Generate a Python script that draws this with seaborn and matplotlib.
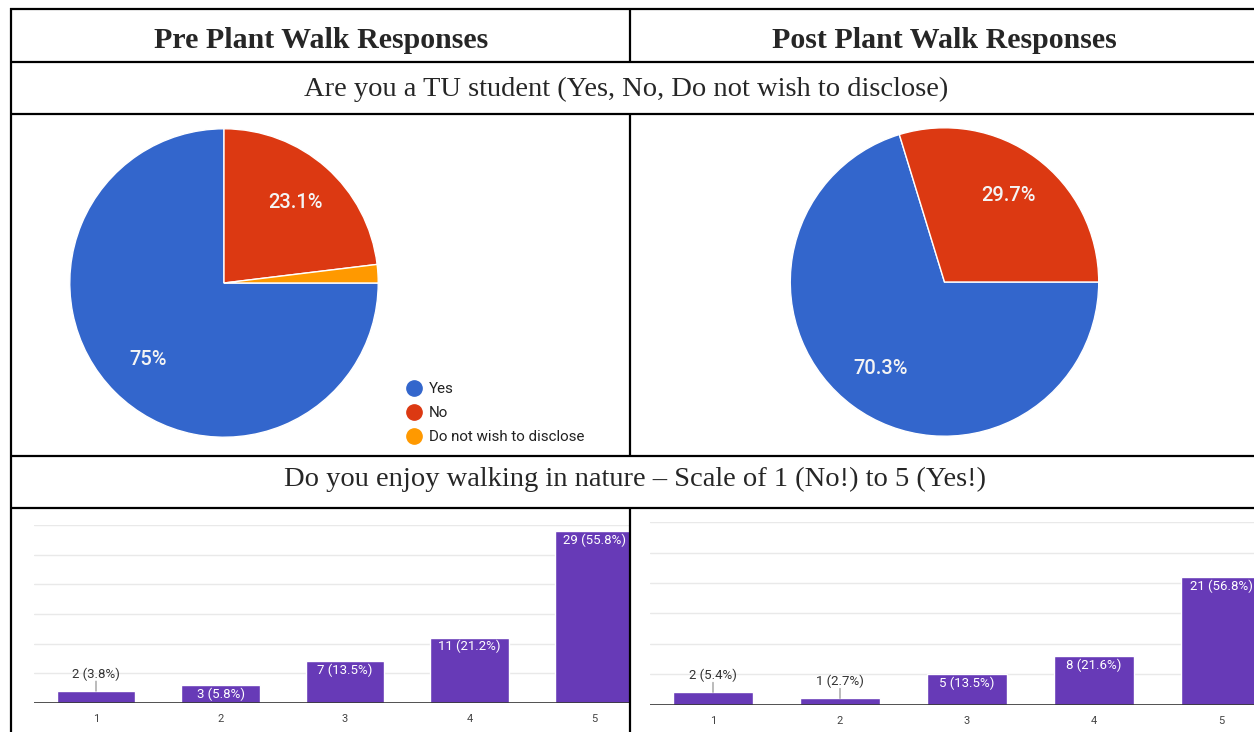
import numpy as np
import pandas as pd
import matplotlib
matplotlib.use("Agg")
import matplotlib.pyplot as plt
import seaborn as sns
from matplotlib.lines import Line2D

# ---------------- data ----------------
header_titles = ["Pre Plant Walk Responses", "Post Plant Walk Responses"]
question_1 = "Are you a TU student (Yes, No, Do not wish to disclose)"
question_2 = "Do you enjoy walking in nature \u2013 Scale of 1 (No!) to 5 (Yes!)"

student_labels = ["Yes", "No", "Do not wish to disclose"]
student_colors = ["#3366CC", "#DC3912", "#FF9900"]
pre_student_counts = [39, 12, 1]
post_student_counts = [26, 11, 0]

scale_levels = ["1", "2", "3", "4", "5"]
pre_scale_counts = [2, 3, 7, 11, 29]
post_scale_counts = [2, 1, 5, 8, 21]
bar_color = "#673AB7"

# ---------------- figure ----------------
sns.set_style("white")
plt.rcParams["font.family"] = ["Roboto", "DejaVu Sans"]

W, H = 1254, 732
fig = plt.figure(figsize=(W / 100, H / 100), dpi=100)
fig.patch.set_facecolor("white")


def px_axes(x0, y0, x1, y1):
    return fig.add_axes([x0 / W, 1 - y1 / H, (x1 - x0) / W, (y1 - y0) / H])


def pct_fmt(p):
    if p < 5:
        return ""
    return f"{p:.1f}".rstrip("0").rstrip(".") + "%"


def draw_pie(ax, counts):
    vals = [c for c in counts if c > 0]
    cols = [student_colors[i] for i, c in enumerate(counts) if c > 0]
    ax.pie(vals, colors=cols, startangle=0, counterclock=False,
           autopct=pct_fmt, pctdistance=0.7, radius=1,
           wedgeprops=dict(edgecolor="white", linewidth=1.0),
           textprops=dict(color="#f4f4f4", fontsize=14.5, family="Roboto",
                          fontweight="medium"))
    ax.set_xlim(-1.005, 1.005)
    ax.set_ylim(-1.005, 1.005)
    ax.set_aspect("equal")
    ax.axis("off")


def draw_bars(ax, counts, xright):
    df = pd.DataFrame({"level": scale_levels, "count": counts})
    sns.barplot(data=df, x="level", y="count", order=scale_levels, ax=ax,
                color=bar_color, saturation=1, width=0.63)
    ax.set_xlim(-0.5, xright)
    ax.set_ylim(0, 30)
    for s in ax.spines.values():
        s.set_visible(False)
    ax.set_yticks([5, 10, 15, 20, 25, 30])
    ax.set_yticklabels([])
    ax.yaxis.grid(True, color="#e9e9e9", lw=1)
    ax.set_axisbelow(True)
    ax.tick_params(axis="both", length=0)
    ax.tick_params(axis="x", pad=8, labelsize=8, labelcolor="#444444")
    ax.set_xlabel("")
    ax.set_ylabel("")
    ax.patch.set_alpha(0)
    ax.axhline(0, color="#333333", lw=1.2, zorder=3)
    total = sum(counts)
    for i, c in enumerate(counts):
        label = f"{c} ({100 * c / total:.1f}%)"
        if c / 30 < 0.08:
            ax.annotate("", xy=(i, c), xytext=(0, 10), textcoords="offset pixels",
                        arrowprops=dict(arrowstyle="-", color="#888888", lw=0.8,
                                        shrinkA=0, shrinkB=0))
            ax.annotate(label, xy=(i, c), xytext=(0, 17), textcoords="offset pixels",
                        ha="center", va="center", color="#333333", fontsize=9.5)
        else:
            ax.annotate(label, xy=(i, c), xytext=(0, -9), textcoords="offset pixels",
                        ha="center", va="center", color="white", fontsize=9.5)


# pies
ax_pre_pie = px_axes(69, 128, 379, 438)
draw_pie(ax_pre_pie, pre_student_counts)
ax_post_pie = px_axes(789.5, 127, 1099.5, 437)
draw_pie(ax_post_pie, post_student_counts)

handles = [Line2D([], [], marker="o", linestyle="none", markersize=11,
                  markerfacecolor=c, markeredgecolor=c) for c in student_colors]
fig.legend(handles, student_labels, loc="upper left",
           bbox_to_anchor=(406.5 / W, 1 - 382 / H), frameon=False,
           prop=dict(family="Roboto", size=10.9), handlelength=1.0,
           handletextpad=0.5, labelspacing=0.66, borderpad=0, borderaxespad=0,
           labelcolor="#222222")

# bars
ax_pre_bar = px_axes(33.75, 525, 630, 703)
draw_bars(ax_pre_bar, pre_scale_counts, (630 - 96) / 124.5)
ax_post_bar = px_axes(649.5, 522.4, 1254, 704.5)
draw_bars(ax_post_bar, post_scale_counts, (1254 - 713) / 127)

# table overlay
ov = fig.add_axes([0, 0, 1, 1])
ov.set_xlim(0, W)
ov.set_ylim(H, 0)
ov.axis("off")
ov.patch.set_alpha(0)
lw = 1.6
for y in [9, 62, 114, 456, 508]:
    ov.plot([10, W], [y, y], color="black", lw=lw, solid_capstyle="butt")
ov.plot([11, 11], [8, H], color="black", lw=lw, solid_capstyle="butt")
for (y0, y1) in [(9, 62), (114, 456), (508, H)]:
    ov.plot([630, 630], [y0, y1], color="black", lw=lw, solid_capstyle="butt")

serif = ["Liberation Serif", "DejaVu Serif"]
ov.text(321, 48.5, header_titles[0], ha="center", va="baseline",
        fontsize=21.5, fontweight="bold", family=serif)
ov.text(944, 48.5, header_titles[1], ha="center", va="baseline",
        fontsize=21.5, fontweight="bold", family=serif)
ov.text(626, 96.5, question_1, ha="center", va="baseline", fontsize=20.5, family=serif)
ov.text(635, 486.5, question_2, ha="center", va="baseline", fontsize=20.5, family=serif)

fig.savefig("out.png", dpi=100, facecolor="white")
